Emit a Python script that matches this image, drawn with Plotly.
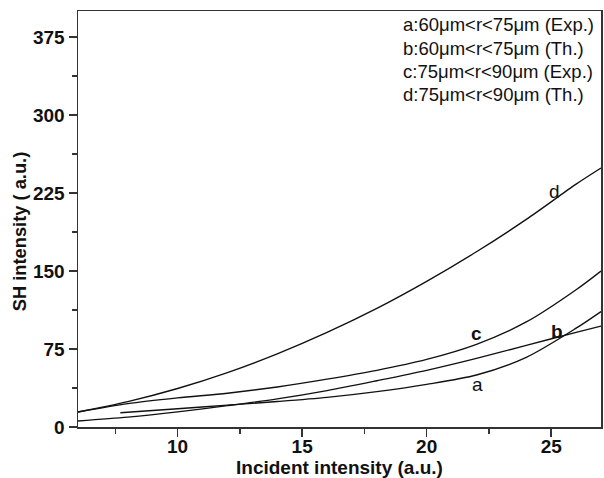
import plotly.graph_objects as go

# Curve data
x_a = [7.7, 10, 12, 14, 16, 18, 20, 22, 24, 26, 27]
y_a = [13.7, 17.5, 21, 24.5, 28.5, 34, 41, 50, 67, 95, 111]

x_b = [6, 8, 10, 12, 14, 16, 18, 20, 22, 24, 26, 27]
y_b = [5.8, 9.5, 14.5, 20.5, 27, 35, 44.5, 54.5, 66, 78.5, 91, 97]

x_c = [6, 8, 10, 12, 14, 16, 18, 20, 22, 24, 26, 27]
y_c = [14.4, 22.5, 28, 32.5, 38.5, 46, 54.5, 65, 79.5, 101, 132, 150]

x_d = [6, 8, 10, 12, 14, 16, 18, 20, 22, 24, 26, 27]
y_d = [14.4, 24.4, 37, 52.3, 70.3, 90.9, 114, 140, 168.5, 199.6, 233.5, 249]

series = [("a", x_a, y_a), ("b", x_b, y_b), ("c", x_c, y_c), ("d", x_d, y_d)]

# curve labels: (text, x, y, bold)
curve_labels = [("a", 22.05, 40.4, False), ("b", 25.25, 91.6, True),
                ("c", 22.0, 90, True), ("d", 25.15, 226, False)]

legend_lines = ["a:60\u03bcm&lt;r&lt;75\u03bcm (Exp.)",
                "b:60\u03bcm&lt;r&lt;75\u03bcm (Th.)",
                "c:75\u03bcm&lt;r&lt;90\u03bcm (Exp.)",
                "d:75\u03bcm&lt;r&lt;90\u03bcm (Th.)"]

x_ticks = [10, 15, 20, 25]
y_ticks = [0, 75, 150, 225, 300, 375]

FONT = "Liberation Sans, Arial, sans-serif"

L, R, T, B = 78, 603, 11, 427
FW, FH = 604, 478
PW, PH = R - L, B - T


def px_to_paper(px, py):
    return (px - L) / PW, (B - py) / PH


fig = go.Figure()
for name, xs, ys in series:
    fig.add_trace(go.Scatter(x=xs, y=ys, mode="lines", name=name,
                             line=dict(color="#111111", width=1.4, shape="spline", smoothing=0.8),
                             showlegend=False, hoverinfo="skip"))

annotations = []
for t, x, y, bold in curve_labels:
    annotations.append(dict(x=x, y=y, xref="x", yref="y", text=t, showarrow=False,
                            font=dict(family=FONT, size=19, color="#111",
                                      weight="bold" if bold else "normal")))

legend_y_px = [25, 48.3, 71.7, 95]
for t, py in zip(legend_lines, legend_y_px):
    ax, ay = px_to_paper(402, py)
    annotations.append(dict(x=ax, y=ay, xref="paper", yref="paper",
                            xanchor="left", yanchor="middle", text=t, showarrow=False,
                            font=dict(family=FONT, size=18.5, color="#111")))

ax, ay = px_to_paper(341, 467)
annotations.append(dict(x=ax, y=ay, xref="paper", yref="paper",
                        xanchor="center", yanchor="middle", text="Incident intensity (a.u.)",
                        showarrow=False, font=dict(family=FONT, size=19, color="#111", weight="bold")))
ax, ay = px_to_paper(19, 232)
annotations.append(dict(x=ax, y=ay, xref="paper", yref="paper",
                        xanchor="center", yanchor="middle", text="SH intensity ( a.u.)",
                        textangle=-90, showarrow=False,
                        font=dict(family=FONT, size=18.3, color="#111", weight="bold")))

axis_common = dict(showgrid=False, zeroline=False, showline=True, linecolor="#333",
                   linewidth=1.5, mirror=True, ticks="outside", ticklen=8, tickwidth=1.5,
                   tickcolor="#333",
                   tickfont=dict(family=FONT, size=19, color="#111", weight="bold"))

fig.update_xaxes(range=[6, 27], tickvals=x_ticks, ticklabelstandoff=-6,
                 minor=dict(tickvals=[7.5, 12.5, 17.5, 22.5], ticks="outside", ticklen=5,
                            tickwidth=1.5, tickcolor="#333"),
                 **axis_common)
fig.update_yaxes(range=[0, 400], tickvals=y_ticks,
                 minor=dict(tickvals=[37.5, 112.5, 187.5, 262.5, 337.5], ticks="outside",
                            ticklen=5, tickwidth=1.5, tickcolor="#333"),
                 **axis_common)

fig.update_layout(width=FW, height=FH, margin=dict(l=L, r=FW - R, t=T, b=FH - B),
                  paper_bgcolor="white", plot_bgcolor="white",
                  annotations=annotations, font=dict(family=FONT))

fig.write_html("out.html", config={"displayModeBar": False, "staticPlot": True},
               post_script="document.body.style.margin='0';"
                           "document.body.style.overflow='hidden';"
                           "document.documentElement.style.overflow='hidden';")
